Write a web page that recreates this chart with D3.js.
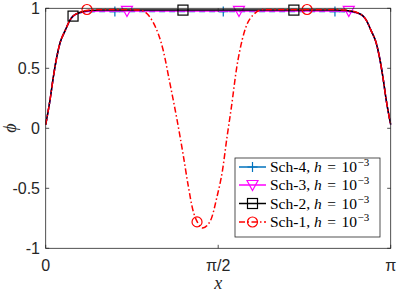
<!DOCTYPE html>
<html>
<head>
<meta charset="utf-8">
<script src="https://cdn.jsdelivr.net/npm/d3@7"></script>
<style>
  html, body { margin: 0; padding: 0; background: #fff; }
  svg { display: block; }
</style>
</head>
<body>
<div id="chart"></div>
<script>
// phi(x) profiles for four schemes, h = 1e-3.
const PI = Math.PI;

// shared x grid for the smooth profiles (Sch-2/3/4)
const gridX = [0, 0.04, 0.07, 0.10, 0.13, 0.18, 0.22, 0.25, 0.31, 0.40, 0.50, 0.80, 1.20, 1.57,
               1.94, 2.34, 2.64, 2.74, 2.83, 2.89, 2.92, 2.96, 3.01, 3.04, 3.07, 3.10, PI];
const sch2Phi = [0.03, 0.24, 0.43, 0.59, 0.71, 0.82, 0.90, 0.935, 0.965, 0.982, 0.985, 0.985, 0.985, 0.985,
                 0.985, 0.985, 0.985, 0.982, 0.965, 0.935, 0.90, 0.82, 0.71, 0.59, 0.43, 0.24, 0.03];
const sch3Phi = [0.03, 0.24, 0.43, 0.59, 0.71, 0.82, 0.90, 0.935, 0.963, 0.976, 0.978, 0.978, 0.978, 0.978,
                 0.978, 0.978, 0.978, 0.976, 0.963, 0.935, 0.90, 0.82, 0.71, 0.59, 0.43, 0.24, 0.03];
const sch4Phi = [0.03, 0.24, 0.43, 0.59, 0.71, 0.82, 0.90, 0.935, 0.962, 0.972, 0.973, 0.973, 0.973, 0.973,
                 0.973, 0.973, 0.973, 0.972, 0.962, 0.935, 0.90, 0.82, 0.71, 0.59, 0.43, 0.24, 0.03];

// Sch-1 has the spurious dip around x ~ 1.4
const sch1X = [0, 0.04, 0.07, 0.10, 0.13, 0.18, 0.22, 0.25, 0.31, 0.40, 0.50, 0.70, 0.86, 0.98, 1.07,
               1.13, 1.19, 1.25, 1.30, 1.34, 1.38, 1.43, 1.50, 1.56, 1.61, 1.65, 1.69, 1.74, 1.79,
               1.83, 1.89, 1.98, 2.20, 2.44, 2.64, 2.74, 2.83, 2.89, 2.92, 2.96, 3.01, 3.04, 3.07, 3.10, PI];
const sch1Phi = [0.03, 0.24, 0.43, 0.59, 0.71, 0.82, 0.90, 0.935, 0.967, 0.985, 0.99, 0.99, 0.985, 0.88, 0.65,
                 0.38, 0.10, -0.21, -0.49, -0.68, -0.78, -0.83, -0.77, -0.57, -0.35, -0.08, 0.17, 0.51, 0.74,
                 0.86, 0.945, 0.99, 0.99, 0.99, 0.99, 0.985, 0.967, 0.935, 0.90, 0.82, 0.71, 0.59, 0.43, 0.24, 0.03];

// marker positions
const sch1MarkX = [0.376, 1.378, 2.38],  sch1MarkY = [0.99, -0.78, 0.99];
const sch2MarkX = [0.249, 1.25, 2.26],   sch2MarkY = [0.935, 0.985, 0.985];
const sch3MarkX = [0.74, 1.76, 2.76],    sch3MarkY = [0.978, 0.978, 0.978];
const sch4MarkX = [0.63, 1.617, 2.634],  sch4MarkY = [0.973, 0.973, 0.973];

const xTicks = [0, PI / 2, PI], xTickLabels = ['0', 'π/2', 'π'];
const yTicks = [-1, -0.5, 0, 0.5, 1];

const W = 399, H = 294;
const AX = '#262626';
const SANS = 'Liberation Sans, Arial, sans-serif';
const SERIF = 'Liberation Serif, Times New Roman, serif';

const svg = d3.select('#chart').append('svg').attr('width', W).attr('height', H);

const x = d3.scaleLinear().domain([0, PI]).range([45.7, 390.7]);
const y = d3.scaleLinear().domain([-1, 1]).range([248.3, 8.3]);

const series = [
  { name: 'Sch-4', xs: gridX, ys: sch4Phi, mx: sch4MarkX, my: sch4MarkY, color: '#0072BD', dash: '6,4', marker: 'plus' },
  { name: 'Sch-3', xs: gridX, ys: sch3Phi, mx: sch3MarkX, my: sch3MarkY, color: '#FF00FF', dash: null, marker: 'tri' },
  { name: 'Sch-2', xs: gridX, ys: sch2Phi, mx: sch2MarkX, my: sch2MarkY, color: '#000000', dash: null, marker: 'square' },
  { name: 'Sch-1', xs: sch1X, ys: sch1Phi, mx: sch1MarkX, my: sch1MarkY, color: '#FF0000', dash: '6,2.5,1.5,2.5', marker: 'circle' },
];

const line = d3.line().x(d => x(d[0])).y(d => y(d[1])).curve(d3.curveMonotoneX);

function drawMarker(g, kind, cx, cy, color) {
  if (kind === 'plus') {
    g.append('path').attr('d', `M${cx - 5},${cy}H${cx + 5}M${cx},${cy - 5}V${cy + 5}`)
      .attr('stroke', color).attr('stroke-width', 1.2).attr('fill', 'none');
  } else if (kind === 'tri') {
    g.append('path').attr('d', `M${cx - 5.5},${cy - 4.5}L${cx + 5.5},${cy - 4.5}L${cx},${cy + 5.5}Z`)
      .attr('stroke', color).attr('stroke-width', 1.2).attr('fill', 'none');
  } else if (kind === 'square') {
    g.append('rect').attr('x', cx - 5).attr('y', cy - 5).attr('width', 10).attr('height', 10)
      .attr('stroke', color).attr('stroke-width', 1.2).attr('fill', 'none');
  } else {
    g.append('circle').attr('cx', cx).attr('cy', cy).attr('r', 5)
      .attr('stroke', color).attr('stroke-width', 1.2).attr('fill', 'none');
  }
}

const plot = svg.append('g');
series.forEach(s => {
  plot.append('path')
    .datum(s.xs.map((v, i) => [v, s.ys[i]]))
    .attr('d', line)
    .attr('fill', 'none')
    .attr('stroke', s.color)
    .attr('stroke-width', 1.5)
    .attr('stroke-dasharray', s.dash);
  s.mx.forEach((v, i) => drawMarker(plot, s.marker, x(v), y(s.my[i]), s.color));
});

// box + inward ticks
const [x0, x1] = x.range(), [y0, y1] = y.range();
svg.append('rect').attr('x', x0).attr('y', y1).attr('width', x1 - x0).attr('height', y0 - y1)
  .attr('fill', 'none').attr('stroke', AX).attr('stroke-width', 0.8);

const tk = svg.append('g').attr('stroke', AX).attr('stroke-width', 0.8);
yTicks.forEach(t => {
  tk.append('line').attr('x1', x0).attr('x2', x0 + 3.5).attr('y1', y(t)).attr('y2', y(t));
  tk.append('line').attr('x1', x1).attr('x2', x1 - 3.5).attr('y1', y(t)).attr('y2', y(t));
});
xTicks.forEach(t => {
  tk.append('line').attr('x1', x(t)).attr('x2', x(t)).attr('y1', y0).attr('y2', y0 - 3.5);
  tk.append('line').attr('x1', x(t)).attr('x2', x(t)).attr('y1', y1).attr('y2', y1 + 3.5);
});

yTicks.forEach(t => {
  svg.append('text').attr('x', 40).attr('y', y(t) + 5.5)
    .attr('text-anchor', 'end').attr('font-family', SANS).attr('font-size', 16).attr('fill', AX)
    .text(d3.format('')(t).replace('−', '-'));
});
xTicks.forEach((t, i) => {
  svg.append('text').attr('x', x(t)).attr('y', 271)
    .attr('text-anchor', 'middle').attr('font-family', SANS).attr('font-size', 16).attr('fill', AX)
    .text(xTickLabels[i]);
});

// axis labels
svg.append('text').attr('x', x(PI / 2)).attr('y', 289)
  .attr('text-anchor', 'middle').attr('font-family', SERIF).attr('font-style', 'italic')
  .attr('font-size', 18).attr('fill', AX).text('x');
svg.append('text').attr('transform', 'translate(16,128) rotate(-90)')
  .attr('text-anchor', 'middle').attr('font-family', SERIF).attr('font-style', 'italic')
  .attr('font-size', 18).attr('fill', AX).text('ϕ');

// legend (same order as plotting: Sch-4 on top)
const lg = svg.append('g');
lg.append('rect').attr('x', 235).attr('y', 158).attr('width', 145).attr('height', 79)
  .attr('fill', '#fff').attr('stroke', AX).attr('stroke-width', 0.8);
const rowY = [167, 185, 203.5, 222];
series.forEach((s, i) => {
  const ry = rowY[i];
  lg.append('line').attr('x1', 239).attr('x2', 266).attr('y1', ry).attr('y2', ry)
    .attr('stroke', s.color).attr('stroke-width', 1.5)
    .attr('stroke-dasharray', s.marker === 'circle' ? '6,2.5,1.5,2.5' : null);
  drawMarker(lg, s.marker, 252.5, ry, s.color);
  const t = lg.append('text').attr('x', 270).attr('y', ry + 5)
    .attr('font-family', SERIF).attr('font-size', 15.5).attr('fill', '#000');
  t.append('tspan').text(s.name + ', ');
  t.append('tspan').attr('font-style', 'italic').text('h');
  t.append('tspan').attr('dx', 5.5).text('=');
  t.append('tspan').attr('dx', 5.5).text('10');
  t.append('tspan').attr('dy', -6).attr('dx', 0.5).attr('font-size', 11).text('−3');
});
</script>
</body>
</html>
